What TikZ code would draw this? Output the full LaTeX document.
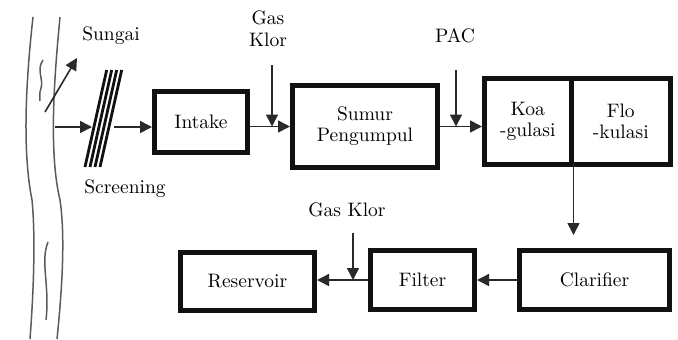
\documentclass[tikz,border=0pt]{standalone}
\usepackage{tikz}
\usetikzlibrary{arrows.meta,positioning,calc}
\definecolor{vink}{HTML}{111111}
\definecolor{vline}{HTML}{2A2A2A}
\definecolor{vriver}{HTML}{5A5A5A}
\tikzset{
  box/.style={draw=vink,fill=white,line width=2.5pt,align=center,inner sep=2pt,font=\fontsize{9.75pt}{10.5pt}\selectfont},
  arr/.style={-{Triangle[length=6pt,width=6pt]},line width=0.8pt,draw=vline},
  lbl/.style={align=center,inner sep=0pt,font=\fontsize{9.75pt}{11pt}\selectfont},
  riv/.style={line width=0.75pt,draw=vriver},
  scr/.style={line width=1.4pt,draw=vink},
}
\begin{document}
\begin{tikzpicture}[x=0.5pt,y=-0.5pt]
\useasboundingbox (0,0) rectangle (678,339);
% river
\draw[riv] (33,17) .. controls (26,80) and (22,150) .. (32,200) .. controls (36,240) and (33,300) .. (30,339);
\draw[riv] (60,17) .. controls (55,70) and (48,150) .. (60,200) .. controls (66,240) and (61,300) .. (57,339);
\draw[riv] (43,60) .. controls (36,70) and (44,80) .. (41,88) .. controls (39,94) and (40,98) .. (40,101);
\draw[riv] (48,242) .. controls (40,262) and (50,285) .. (46,320);
% screening
\foreach \i in {0,...,3}
  \draw[scr] (85+5*\i,167) -- (106.7+5*\i,70);
% boxes
\node[box,minimum width=46.5pt,minimum height=30.5pt] (intake) at (201,122) {Intake};
\node[box,minimum width=72.5pt,minimum height=41pt] (sumur) at (365,126.5) {Sumur\\Pengumpul};
\node[box,minimum width=43.25pt,minimum height=43pt] (koa) at (527.75,121.5) {Koa\\-gulasi};
\node[box,minimum width=49.75pt,minimum height=43pt] (flo) at (620.75,121.5) {Flo\\-kulasi};
\node[box,minimum width=75pt,minimum height=29.5pt] (clar) at (594.5,280) {Clarifier};
\node[box,minimum width=52pt,minimum height=29.5pt] (filter) at (422.5,280) {Filter};
\node[box,minimum width=67pt,minimum height=29pt] (res) at (247.5,281.5) {Reservoir};
% labels
\node[lbl] (sungai) at (111,36) {Sungai};
\node[lbl] (screening) at (125,189) {Screening};
\node[lbl] (gas1) at (268,29) {Gas\\Klor};
\node[lbl] (pac) at (455,36) {PAC};
\node[lbl] (gas2) at (347,210) {Gas Klor};
% points
\coordinate (rivout) at (55,127);
\coordinate (scrin) at (92,127);
\coordinate (scrout) at (114,127);
\coordinate (sgA) at (45,112);
\coordinate (sgB) at (77,58);
\coordinate (gk1) at (272,65);
\coordinate (pacin) at (456,70);
\coordinate (gk2) at (353,233);
% arrows
\draw[arr] (sgA) -- (sgB);
\draw[arr] (rivout) -- (scrin);
\draw[arr] (scrout) -- (scrout -| intake.west);
\draw[arr] (intake.east |- sumur.west) -- (sumur.west);
\draw[arr] (gk1) -- (gk1 |- sumur.west);
\draw[arr] (sumur.east) -- (sumur.east -| koa.west);
\draw[arr] (pacin) -- (pacin |- sumur.east);
\draw[arr,shorten >=6.5pt] ([yshift=1.5pt]koa.south east) -- (koa.south east |- clar.north);
\draw[arr] (clar.west) -- (filter.east);
\draw[arr] (filter.west) -- (filter.west -| res.east);
\draw[arr] (gk2) -- (gk2 |- filter.west);
\end{tikzpicture}
\end{document}
